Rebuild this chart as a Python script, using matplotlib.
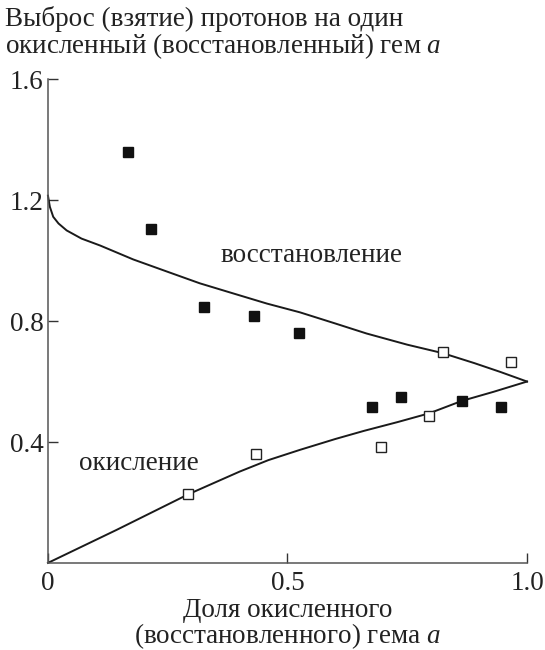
import matplotlib.pyplot as plt

plt.rcParams['font.family'] = ['Liberation Serif', 'DejaVu Serif']
plt.rcParams['mathtext.fontset'] = 'custom'
plt.rcParams['mathtext.it'] = 'Liberation Serif:italic'
plt.rcParams['mathtext.rm'] = 'Liberation Serif'

# theoretical curves
red_x = [0.0, 0.004, 0.011, 0.022, 0.039, 0.07, 0.109, 0.178, 0.25, 0.317, 0.39, 0.457, 0.526, 0.6, 0.665, 0.75, 0.824, 0.89, 0.944, 1.0]
red_y = [1.215, 1.178, 1.145, 1.123, 1.10, 1.073, 1.05, 1.004, 0.963, 0.925, 0.89, 0.858, 0.829, 0.792, 0.759, 0.722, 0.694, 0.661, 0.632, 0.60]
ox_x = [0.0, 0.143, 0.293, 0.35, 0.4, 0.46, 0.526, 0.6, 0.66, 0.73, 0.796, 0.864, 0.93, 1.0]
ox_y = [0.0, 0.109, 0.227, 0.267, 0.302, 0.34, 0.374, 0.41, 0.437, 0.466, 0.495, 0.536, 0.566, 0.60]

# experimental points
filled_x = [0.167, 0.216, 0.326, 0.431, 0.525, 0.677, 0.736, 0.864, 0.946]
filled_y = [1.358, 1.106, 0.847, 0.817, 0.759, 0.517, 0.549, 0.536, 0.517]
open_x = [0.293, 0.434, 0.695, 0.796, 0.824, 0.967]
open_y = [0.229, 0.359, 0.385, 0.485, 0.698, 0.664]

xticks = [0, 0.5, 1.0]
xlabels = ['0', '0.5', '1.0']
yticks = [0.4, 0.8, 1.2, 1.6]
ylabels = ['0.4', '0.8', '1.2', '1.6']

fs = 19.5

fig = plt.figure(figsize=(5.45, 6.5), dpi=100)
ax = fig.add_axes([0.088, 0.134, 0.879, 0.744])

ax.plot(red_x, red_y, color='#1a1a1a', lw=1.4, clip_on=False)
ax.plot(ox_x, ox_y, color='#1a1a1a', lw=1.4, clip_on=False)
ax.plot(filled_x, filled_y, 's', color='#111111', ms=7, ls='none', clip_on=False)
ax.plot(open_x, open_y, 's', mfc='white', mec='#222222', mew=1.0, ms=7, ls='none', clip_on=False)

ax.text(0.55, 1.018, 'восстановление', fontsize=fs, ha='center', va='center', color='#222222')
ax.text(0.19, 0.33, 'окисление', fontsize=fs, ha='center', va='center', color='#222222')

ax.set_xlim(0, 1.0)
ax.set_ylim(0, 1.6)
ax.set_xticks(xticks)
ax.set_xticklabels(xlabels)
ax.set_yticks(yticks)
ax.set_yticklabels(ylabels)
ax.tick_params(direction='in', length=7, width=1, labelsize=fs, colors='#333333', labelcolor='#222222')
ax.tick_params(axis='x', pad=6)
ax.tick_params(axis='y', pad=3)
for s in ['top', 'right']:
    ax.spines[s].set_visible(False)
for s in ['left', 'bottom']:
    ax.spines[s].set_color('#555555')
    ax.spines[s].set_linewidth(1.1)

ax.set_xlabel('Доля окисленного\n(восстановленного) гема $a$', fontsize=fs, color='#222222', labelpad=1,
              linespacing=0.95)
fig.text(0.01, 0.99, 'Выброс (взятие) протонов на один\nокисленный (восстановленный) гем $a$',
         fontsize=fs, ha='left', va='top', color='#222222', linespacing=0.95)

fig.savefig('out.png', dpi=100)
